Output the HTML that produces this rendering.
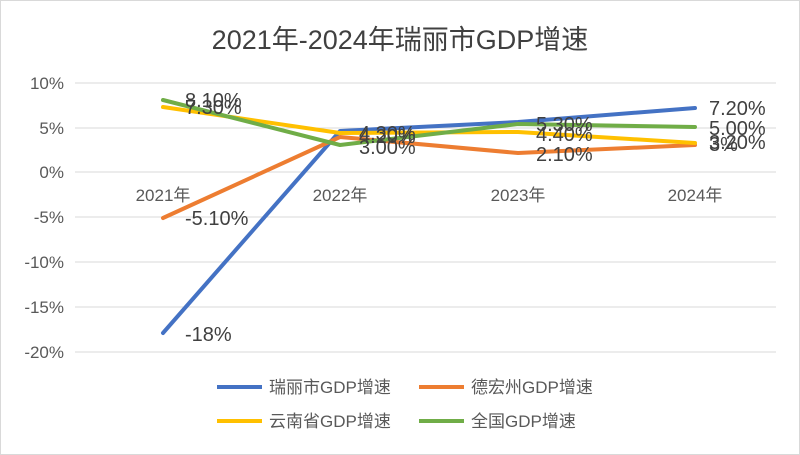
<!DOCTYPE html><html><head><meta charset="utf-8"><style>body{margin:0;background:#fff}svg{display:block}text{font-family:"Liberation Sans","Noto Sans CJK SC",sans-serif}</style></head><body>
<svg width="800" height="455" xmlns="http://www.w3.org/2000/svg">
<rect x="0.5" y="0.5" width="799" height="454" fill="#fff" stroke="#d9d9d9"/>
<text x="400" y="49" font-size="27" text-anchor="middle" fill="#404040">2021年-2024年瑞丽市GDP增速</text>
<g stroke="#d9d9d9" stroke-width="1">
<line x1="75" x2="776" y1="83" y2="83"/><line x1="75" x2="776" y1="128" y2="128"/><line x1="75" x2="776" y1="172" y2="172"/><line x1="75" x2="776" y1="217" y2="217"/><line x1="75" x2="776" y1="262" y2="262"/><line x1="75" x2="776" y1="307" y2="307"/><line x1="75" x2="776" y1="352" y2="352"/>
</g>
<g font-size="17" fill="#595959" text-anchor="end">
<text x="64" y="89">10%</text><text x="64" y="134">5%</text><text x="64" y="178">0%</text><text x="64" y="223">-5%</text><text x="64" y="268">-10%</text><text x="64" y="313">-15%</text><text x="64" y="358">-20%</text>
</g>
<g font-size="17" fill="#595959" text-anchor="middle">
<text x="163" y="201">2021年</text><text x="340" y="201">2022年</text><text x="518" y="201">2023年</text><text x="695" y="201">2024年</text>
</g>
<g fill="none" stroke-width="4" stroke-linejoin="round" stroke-linecap="round">
<polyline stroke="#4472c4" points="163,333 340,131 518,122 695,108"/>
<polyline stroke="#ed7d31" points="163,218 340,137 518,153 695,145"/>
<polyline stroke="#ffc000" points="163,107 340,133 518,132 695,143"/>
<polyline stroke="#70ad47" points="163,100 340,145 518,124 695,127"/>
</g>
<g font-size="20" fill="#404040">
<text x="185" y="341">-18%</text>
<text x="185" y="225">-5.10%</text>
<text x="185" y="114">7.30%</text><text x="185" y="107">8.10%</text>
<text x="359" y="143">4.20%</text><text x="359" y="140">4.30%</text><text x="359" y="154">3.00%</text>
<text x="536" y="131">5.30%</text><text x="536" y="141">4.40%</text><text x="536" y="161">2.10%</text>
<text x="709" y="115">7.20%</text><text x="709" y="135">5.00%</text><text x="709" y="149">3.20%</text><text x="709" y="151">3%</text>
</g>
<g font-size="17" fill="#595959">
<line x1="217" x2="262" y1="387" y2="387" stroke="#4472c4" stroke-width="4"/><text x="269" y="393">瑞丽市GDP增速</text>
<line x1="419" x2="464" y1="387" y2="387" stroke="#ed7d31" stroke-width="4"/><text x="471" y="393">德宏州GDP增速</text>
<line x1="217" x2="262" y1="421" y2="421" stroke="#ffc000" stroke-width="4"/><text x="269" y="427">云南省GDP增速</text>
<line x1="419" x2="464" y1="421" y2="421" stroke="#70ad47" stroke-width="4"/><text x="471" y="427">全国GDP增速</text>
</g>
</svg></body></html>
